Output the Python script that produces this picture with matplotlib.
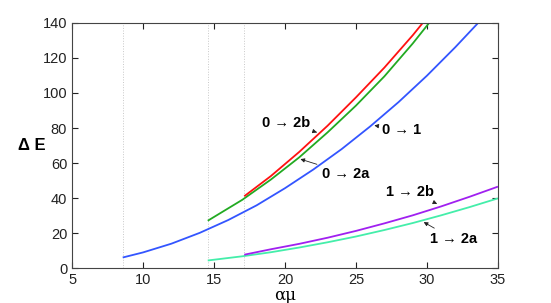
import matplotlib
matplotlib.use('Agg')
import matplotlib.pyplot as plt

# curves
x01 = [8.57, 10, 12, 14, 16, 18, 20, 22, 24, 26, 28, 30, 32, 33.6]
y01 = [6, 8.9, 13.9, 20.1, 27.4, 35.8, 45.6, 56.3, 68.0, 80.9, 94.8, 109.9, 126.2, 140]
x02b = [17.13, 19, 21, 23, 25, 27, 29, 29.7]
y02b = [41, 52.5, 66.3, 81.3, 97.5, 114.5, 133, 140]
x02a = [14.56, 17, 19, 21, 23, 25, 27, 29, 30.15]
y02a = [27, 39, 50.5, 63.2, 77.5, 92.8, 109.5, 128.3, 140]
x12b = [17.13, 19, 21, 23, 25, 27, 29, 31, 33, 35]
y12b = [7.6, 10.7, 13.8, 17.3, 21.2, 25.5, 30.1, 35.2, 40.7, 46.5]
x12a = [14.56, 17, 19, 21, 23, 25, 27, 29, 31, 33, 35]
y12a = [4.3, 6.7, 9, 11.7, 14.7, 18.0, 21.7, 25.7, 30.1, 34.8, 39.8]
vlines = [8.57, 14.56, 17.13]

plt.rcParams['font.family'] = ['Liberation Sans', 'DejaVu Sans']
fig = plt.figure(figsize=(5.51, 3.03), dpi=100)
ax = fig.add_axes([0.1307, 0.1155, 0.773, 0.8086])

for v in vlines:
    ax.axvline(v, color='#c8c8c8', lw=0.7, ls=':')

kw = dict(lw=1.3, solid_joinstyle='round', solid_capstyle='butt')
ax.plot(x01, y01, color='#3355ff', **kw)
ax.plot(x02a, y02a, color='#22aa22', **kw)
ax.plot(x02b, y02b, color='#ff1111', **kw)
ax.plot(x12a, y12a, color='#44eeaa', **kw)
ax.plot(x12b, y12b, color='#a020f0', **kw)

ax.set_xlim(5, 35)
ax.set_ylim(0, 140)
ax.set_xticks(range(5, 36, 5))
ax.set_yticks(range(0, 141, 20))
ax.tick_params(direction='in', top=True, right=True, labelsize=10.5, colors='#222222', length=4)
for s in ax.spines.values():
    s.set_color('#444444')
    s.set_linewidth(0.8)

ax.set_xlabel('αμ', family='DejaVu Serif', fontsize=12, labelpad=0)
ax.set_ylabel('Δ E', fontsize=12, fontweight='bold', rotation=0, labelpad=8, va='center')

arr = dict(arrowstyle='-|>', color='#222222', lw=0.6, mutation_scale=6)
tk = dict(fontsize=10.5, fontweight='bold', ha='center', va='center')
ax.annotate('0 → 2b', xy=(22.25, 77.5), xytext=(20.1, 83), arrowprops=arr, **tk)
ax.annotate('0 → 2a', xy=(20.9, 62.7), xytext=(24.3, 54), arrowprops=arr, **tk)
ax.annotate('0 → 1', xy=(26.1, 81.7), xytext=(28.2, 79), arrowprops=arr, **tk)
ax.annotate('1 → 2b', xy=(30.9, 36.0), xytext=(28.8, 43.6), arrowprops=arr, **tk)
ax.annotate('1 → 2a', xy=(29.6, 27.0), xytext=(31.9, 16.4), arrowprops=arr, **tk)

fig.savefig('out.png', dpi=100)
